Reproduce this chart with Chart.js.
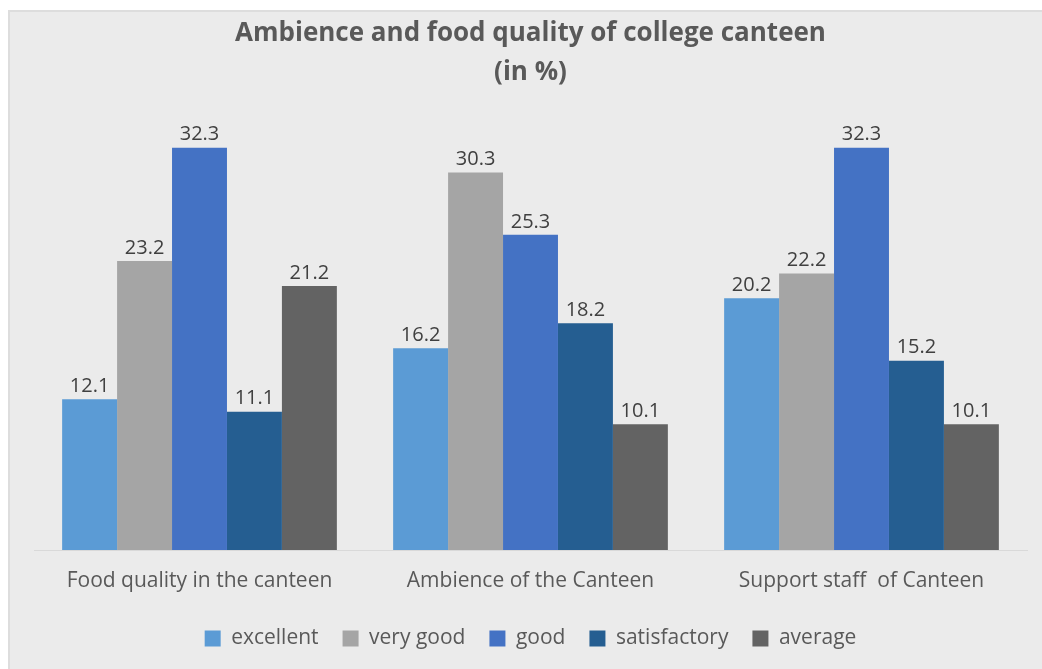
<!DOCTYPE html>
<html>
<head>
<meta charset="utf-8">
<script src="https://cdn.jsdelivr.net/npm/chart.js@4.4.1/dist/chart.umd.min.js"></script>
<style>
  html, body { margin: 0; padding: 0; background: #fff; }
  #wrap { width: 1042px; height: 669px; }
</style>
</head>
<body>
<div id="wrap"><canvas id="canteenChart" width="1042" height="669"></canvas></div>
<script>
const categories = ['Food quality in the canteen', 'Ambience of the Canteen', 'Support staff  of Canteen'];
const seriesNames = ['excellent', 'very good', 'good', 'satisfactory', 'average'];
const excellent = [12.1, 16.2, 20.2];
const veryGood = [23.2, 30.3, 22.2];
const good = [32.3, 25.3, 32.3];
const satisfactory = [11.1, 18.2, 15.2];
const average = [21.2, 10.1, 10.1];
const colors = ['#5b9bd5', '#a5a5a5', '#4472c4', '#255e91', '#636363'];

const FONT = '"Open Sans", sans-serif';
const PANEL = '#ebebeb';

// grey panel with a faint border, like the exported picture
const panelBg = {
  id: 'panelBg',
  beforeDraw(chart) {
    const c = chart.ctx;
    c.save();
    c.fillStyle = '#ffffff';
    c.fillRect(0, 0, chart.width, chart.height);
    c.fillStyle = '#dddddd';
    c.fillRect(8, 10, chart.width - 8, chart.height - 10);
    c.fillStyle = PANEL;
    c.fillRect(10, 12, chart.width - 10, chart.height - 12);
    c.restore();
  }
};

// value labels above each bar
const valueLabels = {
  id: 'valueLabels',
  afterDatasetsDraw(chart) {
    const c = chart.ctx;
    c.save();
    c.font = '20px ' + FONT;
    c.textAlign = 'center';
    c.textBaseline = 'middle';
    chart.data.datasets.forEach((ds, i) => {
      chart.getDatasetMeta(i).data.forEach((bar, j) => {
        const txt = ds.data[j].toFixed(1);
        const w = c.measureText(txt).width + 6;
        const y = bar.y - 14;
        c.fillStyle = PANEL;
        c.fillRect(bar.x - w / 2, y - 11, w, 22);
        c.fillStyle = '#404040';
        c.fillText(txt, bar.x, y + 1);
      });
    });
    c.restore();
  }
};

const seriesData = [excellent, veryGood, good, satisfactory, average];

new Chart(document.getElementById('canteenChart'), {
  type: 'bar',
  data: {
    labels: categories,
    datasets: seriesNames.map((name, i) => ({
      label: name,
      data: seriesData[i],
      backgroundColor: colors[i],
      borderWidth: 0,
      categoryPercentage: 0.83,
      barPercentage: 1.0
    }))
  },
  options: {
    responsive: false,
    animation: false,
    layout: { padding: { left: 34, right: 15, top: 0, bottom: 10 } },
    scales: {
      x: {
        grid: { display: false, drawTicks: false },
        border: { display: true, color: '#d9d9d9' },
        ticks: { color: '#595959', font: { family: FONT, size: 21 }, padding: 18, maxRotation: 0 },
        afterFit(scale) { scale.height = 54; }
      },
      y: {
        display: false,
        min: 0,
        max: 35
      }
    },
    plugins: {
      title: {
        display: true,
        text: ['Ambience and food quality of college canteen', '(in %)'],
        color: '#595959',
        font: { family: FONT, size: 26, weight: 'bold', lineHeight: 1.5 },
        padding: { top: 14, bottom: 22 }
      },
      legend: {
        position: 'bottom',
        labels: {
          color: '#595959',
          font: { family: FONT, size: 21 },
          boxWidth: 16,
          boxHeight: 16,
          padding: 24
        }
      },
      tooltip: { enabled: false }
    }
  },
  plugins: [panelBg, valueLabels]
});
</script>
</body>
</html>
